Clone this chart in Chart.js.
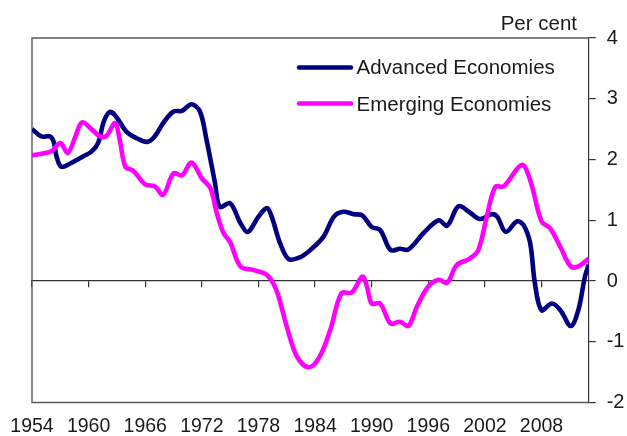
<!DOCTYPE html>
<html>
<head>
<meta charset="utf-8">
<script src="https://cdn.jsdelivr.net/npm/chart.js@4/dist/chart.umd.min.js"></script>
<style>
  html, body { margin: 0; padding: 0; background: #ffffff; }
  #wrap { width: 627px; height: 436px; position: relative; }
</style>
</head>
<body>
<div id="wrap"><canvas id="c" width="627" height="436"></canvas></div>
<script>
// ---- Data ----
const seriesNames = ['Advanced Economies', 'Emerging Economies'];

const advYears = [1954.0, 1955.0, 1955.9, 1956.3, 1956.6, 1957.1, 1958.0, 1959.4, 1960.3, 1961.0,
  1961.6, 1962.2, 1962.8, 1964.0, 1965.1, 1966.2, 1967.0, 1967.9, 1969.0, 1969.9,
  1970.9, 1971.8, 1972.5, 1973.4, 1973.9, 1975.0, 1976.1, 1976.9, 1978.0, 1978.9,
  1979.4, 1980.3, 1981.2, 1982.4, 1983.5, 1984.9, 1986.0, 1987.0, 1988.1, 1989.0,
  1990.0, 1990.9, 1992.0, 1993.0, 1993.9, 1995.5, 1997.1, 1998.0, 1999.2, 2000.3,
  2001.5, 2002.7, 2003.3, 2004.2, 2005.4, 2006.1, 2006.8, 2007.3, 2008.0, 2009.1,
  2010.0, 2011.1, 2011.9, 2012.6, 2013.0];
const advValues = [2.50, 2.38, 2.38, 2.29, 2.05, 1.88, 1.93, 2.05, 2.13, 2.27,
  2.62, 2.78, 2.73, 2.46, 2.35, 2.29, 2.38, 2.60, 2.79, 2.80,
  2.91, 2.79, 2.32, 1.61, 1.22, 1.28, 0.95, 0.81, 1.06, 1.20,
  1.06, 0.62, 0.36, 0.39, 0.51, 0.73, 1.06, 1.14, 1.10, 1.08,
  0.89, 0.84, 0.51, 0.53, 0.52, 0.79, 1.00, 0.91, 1.23, 1.14,
  1.02, 1.10, 1.06, 0.81, 0.98, 0.92, 0.62, -0.04, -0.48, -0.37,
  -0.48, -0.74, -0.48, 0.07, 0.27];

const emgYears = [1954.0, 1955.2, 1956.1, 1957.0, 1957.8, 1958.6, 1959.3, 1960.3, 1961.2, 1961.9,
  1962.8, 1963.3, 1963.9, 1964.7, 1966.0, 1967.0, 1967.9, 1969.0, 1969.9, 1970.9,
  1972.0, 1972.9, 1973.6, 1974.3, 1975.0, 1976.1, 1977.5, 1978.9, 1979.9, 1981.0,
  1982.1, 1983.3, 1984.4, 1985.6, 1986.8, 1987.9, 1989.0, 1989.5, 1990.0, 1990.9,
  1992.0, 1993.0, 1993.9, 1994.8, 1996.0, 1997.1, 1998.0, 1999.0, 2000.4, 2001.3,
  2002.2, 2003.1, 2004.0, 2005.9, 2006.8, 2008.0, 2008.9, 2010.0, 2011.1, 2011.9,
  2013.0];
const emgValues = [2.07, 2.10, 2.14, 2.27, 2.11, 2.38, 2.61, 2.50, 2.38, 2.39,
  2.60, 2.32, 1.88, 1.82, 1.59, 1.56, 1.42, 1.77, 1.74, 1.95,
  1.69, 1.53, 1.11, 0.79, 0.64, 0.24, 0.18, 0.10, -0.15, -0.75,
  -1.25, -1.42, -1.27, -0.81, -0.20, -0.19, 0.07, -0.09, -0.37, -0.37,
  -0.70, -0.67, -0.74, -0.42, -0.09, 0.02, -0.03, 0.26, 0.37, 0.51,
  1.06, 1.55, 1.56, 1.91, 1.66, 0.98, 0.87, 0.56, 0.24, 0.24,
  0.37];

const tickYears = [1954, 1960, 1966, 1972, 1978, 1984, 1990, 1996, 2002, 2008];
const tickLabels = ['1954', '1960', '1966', '1972', '1978', '1984', '1990', '1996', '2002', '2008'];
const yMin = -2, yMax = 4, yStep = 1;
const xMin = 1954, xMax = 2013;
const unitLabel = 'Per cent';

// ---- Styling ----
const FONT = "'Liberation Sans', Arial, sans-serif";
const TEXT = '#1a1a1a';
const NAVY = '#000080';
const MAGENTA = '#ff00ff';

const toPoints = (xs, ys) => xs.map((x, i) => ({ x: x, y: ys[i] }));
const setYearTicks = axis => { axis.ticks = tickYears.map(v => ({ value: v })); };
const noSidePad = s => { s.paddingLeft = 0; s.paddingRight = 0; };

const framePlugin = {
  id: 'frame',
  beforeDatasetsDraw(chart) {
    const { ctx, chartArea: a } = chart;
    ctx.save();
    ctx.strokeStyle = '#5a5a5a';
    ctx.lineWidth = 1.4;
    ctx.beginPath();
    ctx.moveTo(a.right, a.top);
    ctx.lineTo(a.left, a.top);
    ctx.lineTo(a.left, a.bottom);
    ctx.lineTo(a.right, a.bottom);
    ctx.stroke();
    ctx.restore();
  }
};

const legendPlugin = {
  id: 'customLegend',
  afterDraw(chart) {
    const { ctx } = chart;
    const items = [
      { ds: chart.data.datasets[1], lineY: 67.5, textY: 74 },
      { ds: chart.data.datasets[0], lineY: 103.5, textY: 111 }
    ];
    ctx.save();
    items.forEach(it => {
      ctx.strokeStyle = it.ds.borderColor;
      ctx.lineWidth = 4.5;
      ctx.lineCap = 'round';
      ctx.beginPath();
      ctx.moveTo(299, it.lineY);
      ctx.lineTo(351, it.lineY);
      ctx.stroke();
      ctx.fillStyle = TEXT;
      ctx.font = '20.5px ' + FONT;
      ctx.textAlign = 'left';
      ctx.textBaseline = 'alphabetic';
      ctx.fillText(it.ds.label, 356.5, it.textY);
    });
    ctx.font = '20.5px ' + FONT;
    ctx.textAlign = 'right';
    ctx.textBaseline = 'alphabetic';
    ctx.fillText(unitLabel, 577, 29.5);
    ctx.restore();
  }
};

new Chart(document.getElementById('c'), {
  type: 'line',
  data: {
    datasets: [
      {
        label: seriesNames[1],
        data: toPoints(emgYears, emgValues),
        borderColor: MAGENTA,
        borderWidth: 4.6,
        pointRadius: 0,
        tension: 0.35,
        fill: false
      },
      {
        label: seriesNames[0],
        data: toPoints(advYears, advValues),
        borderColor: NAVY,
        borderWidth: 4.6,
        pointRadius: 0,
        tension: 0.35,
        fill: false
      }
    ]
  },
  options: {
    responsive: false,
    animation: false,
    events: [],
    layout: { padding: { left: 32, top: 38, right: 0, bottom: 0 } },
    plugins: { legend: { display: false }, tooltip: { enabled: false }, title: { display: false } },
    scales: {
      x: {
        type: 'linear',
        position: 'bottom',
        min: xMin, max: xMax,
        afterBuildTicks: setYearTicks,
        afterFit: s => { s.height = 33.5; noSidePad(s); },
        grid: { display: false, drawTicks: false },
        border: { display: false },
        ticks: {
          padding: 12.5,
          maxRotation: 0,
          autoSkip: false,
          color: TEXT,
          font: { family: FONT, size: 19.5 },
          callback: (v, i) => tickLabels[i]
        }
      },
      xZero: {
        type: 'linear',
        axis: 'x',
        position: { y: 0 },
        min: xMin, max: xMax,
        afterBuildTicks: setYearTicks,
        afterFit: noSidePad,
        grid: { display: true, drawOnChartArea: false, drawTicks: true, tickLength: 6, color: '#333333', lineWidth: 1.2 },
        border: { display: true, color: '#333333', width: 1.2 },
        ticks: { display: true, callback: () => '', font: { size: 1 } }
      },
      y: {
        type: 'linear',
        position: 'right',
        min: yMin, max: yMax,
        afterFit: s => { s.width = 38.3; s.paddingTop = 0; s.paddingBottom = 0; },
        grid: { display: true, drawOnChartArea: false, drawTicks: true, tickLength: 7, color: '#333333', lineWidth: 1.2 },
        border: { display: true, color: '#333333', width: 1.2 },
        ticks: {
          stepSize: yStep,
          padding: 11,
          color: TEXT,
          font: { family: FONT, size: 20 }
        }
      }
    }
  },
  plugins: [framePlugin, legendPlugin]
});
</script>
</body>
</html>
